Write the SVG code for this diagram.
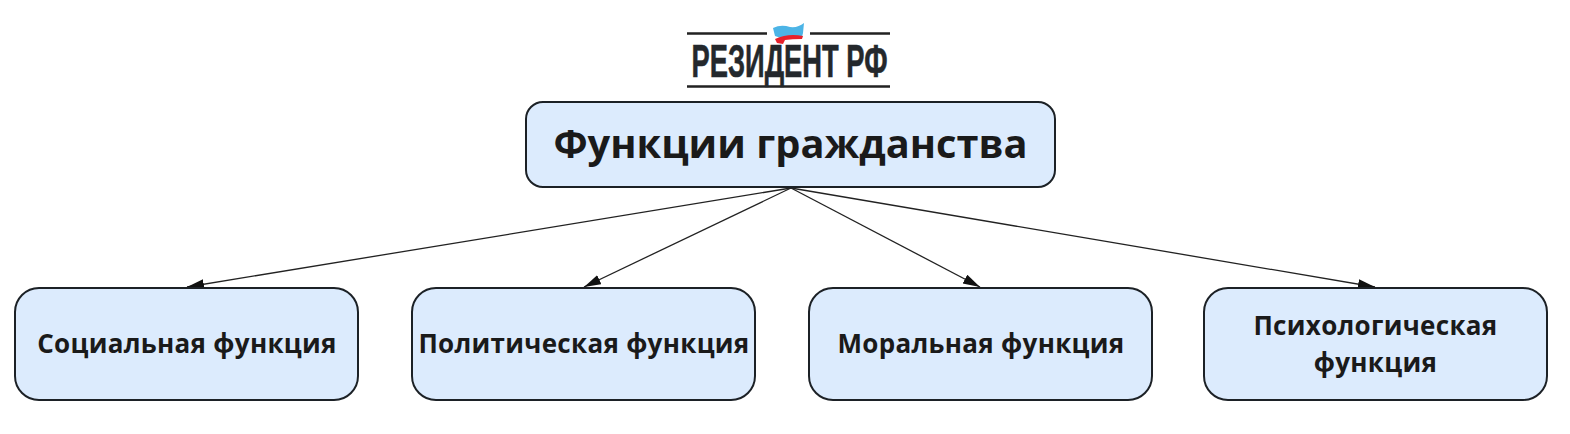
<svg xmlns="http://www.w3.org/2000/svg" width="1570" height="434" viewBox="0 0 1570 434">
<style>
.box{fill:#dcebfd;stroke:#1c2126;stroke-width:2}
.t{font-family:"Open Sans","Noto Sans",sans-serif;font-weight:700;fill:#1a1a1a;text-anchor:middle}
.s{font-size:26px;letter-spacing:.3px}
.e{fill:none;stroke:#222;stroke-width:1.3;marker-end:url(#a)}
.r{stroke:#222;stroke-width:2.6}
</style>
<defs><marker id="a" markerUnits="userSpaceOnUse" markerWidth="18" markerHeight="12" refX="17" refY="5" orient="auto"><path d="M0 0L17 5L0 10Z" fill="#111"/></marker></defs>
<rect width="1570" height="434" fill="#fff"/>
<g id="logo">
<path class="r" d="M687 33.500H767M810 33.500H890M687 86.500H890"/>
<path d="M773 28Q781 24 790 27Q798 28 804 23L803 33L802 37Q790 35 781 38L775 36Z" fill="#4cb4e6"/>
<path d="M775 39Q788 33 803 36L802 39Q792 39 785 40L783 44L777 43Z" fill="#e8202a"/>
<text x="789.500" y="77" font-family="'Liberation Sans',sans-serif" font-weight="700" font-size="46" text-anchor="middle" textLength="196" lengthAdjust="spacingAndGlyphs" fill="#24282c" stroke="#24282c" stroke-width=".6">РЕЗИДЕНТ РФ</text>
</g>
<g id="connectors">
<path class="e" d="M791 188L187 287"/>
<path class="e" d="M791 188L584 287"/>
<path class="e" d="M791 188L980 287"/>
<path class="e" d="M791 188L1375 287"/>
</g>
<g id="root"><rect class="box" x="526" y="102" width="529" height="85" rx="17"/>
<text class="t" x="790.500" y="157.500" font-size="39.800">Функции гражданства</text></g>
<g id="n1"><rect class="box" x="15" y="288" width="343" height="112" rx="24"/>
<text class="t s" x="187" y="353">Социальная функция</text></g>
<g id="n2"><rect class="box" x="412" y="288" width="343" height="112" rx="24"/>
<text class="t s" x="584" y="353">Политическая функция</text></g>
<g id="n3"><rect class="box" x="809" y="288" width="343" height="112" rx="24"/>
<text class="t s" x="981" y="353">Моральная функция</text></g>
<g id="n4"><rect class="box" x="1204" y="288" width="343" height="112" rx="24"/>
<text class="t s" x="1375.500" y="335">Психологическая</text>
<text class="t s" x="1375.500" y="372">функция</text></g>
</svg>
